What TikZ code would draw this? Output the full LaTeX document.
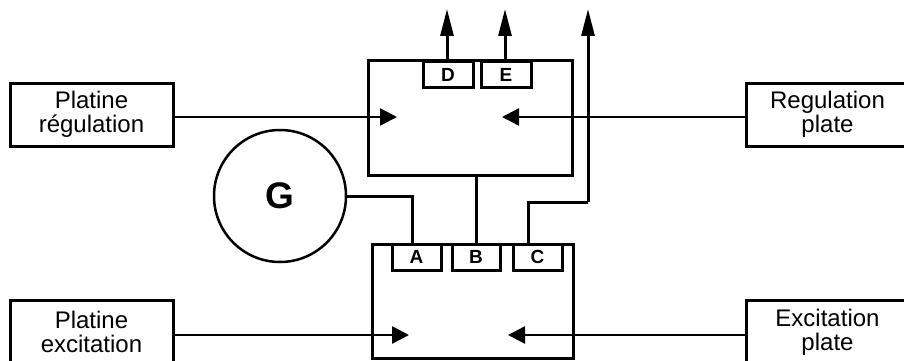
\documentclass[tikz,border=0pt]{standalone}
\usepackage{fontspec}
\setmainfont{Liberation Sans}
\usetikzlibrary{arrows.meta}
\begin{document}
\begin{tikzpicture}[x=1pt,y=-1pt,
  sidebox/.style={draw,line width=3pt,minimum width=163pt,minimum height=63pt,inner sep=0pt,align=center,font=\fontsize{24}{24}\selectfont},
  mainbox/.style={draw,line width=3pt,inner sep=0pt},
  port/.style={draw,line width=3pt,minimum height=26pt,inner sep=0pt,font=\fontsize{19}{19}\selectfont\bfseries},
  wire/.style={line width=3pt},
  harrow/.style={line width=2.5pt,-{Triangle[length=17pt,width=17pt]}},
  uarrow/.style={line width=3pt,-{Triangle[length=27pt,width=13pt]}}
]
\useasboundingbox (0,0) rectangle (904,361);
% main boxes
\node[mainbox,minimum width=204pt,minimum height=114pt] (top) at (470,118) {};
\node[mainbox,minimum width=201pt,minimum height=114pt] (bot) at (472.5,301) {};
% ports
\node[port,minimum width=50pt] (D) at (448,74.5) {D};
\node[port,minimum width=50pt] (E) at (506,74.5) {E};
\node[port,minimum width=49pt] (A) at (416.5,257) {A};
\node[port,minimum width=48pt] (B) at (476,257) {B};
\node[port,minimum width=49pt] (C) at (537.5,257) {C};
% generator
\node[draw,circle,line width=2.5pt,minimum size=132pt,inner sep=0pt,font=\fontsize{37}{37}\selectfont\bfseries] (G) at (280,196) {G};
% side boxes
\node[sidebox] (pr) at (91.5,114.5) {Platine\\régulation};
\node[sidebox] (rp) at (827.5,114.5) {Regulation\\plate};
\node[sidebox] (pe) at (91.5,332) {Platine\\excitation};
\node[sidebox] (ep) at (827.5,332) {Excitation\\plate};
% coordinates
\coordinate (t1) at (397,117);
\coordinate (t2) at (502,117);
\coordinate (t3) at (409,335);
\coordinate (t4) at (508,335);
\coordinate (dout) at (447,9);
\coordinate (eout) at (505,9);
\coordinate (cturn) at (588,202);
\coordinate (cout) at (588,9);
\coordinate (aw) at (412,244);
\coordinate (cw) at (528,244);
% connectors
\draw[harrow] (pr.east |- t1) -- (t1);
\draw[harrow] (rp.west |- t2) -- (t2);
\draw[harrow] (pe.east |- t3) -- (t3);
\draw[harrow] (ep.west |- t4) -- (t4);
\draw[uarrow] (D.north -| dout) -- (dout);
\draw[uarrow] (E.north -| eout) -- (eout);
\draw[wire] (G.east) -| (aw);
\draw[wire] (top.south -| B.north) -- (B.north);
\draw[wire] (cw) |- (cturn);
\draw[uarrow] (cturn) -- (cout);
\end{tikzpicture}
\end{document}
